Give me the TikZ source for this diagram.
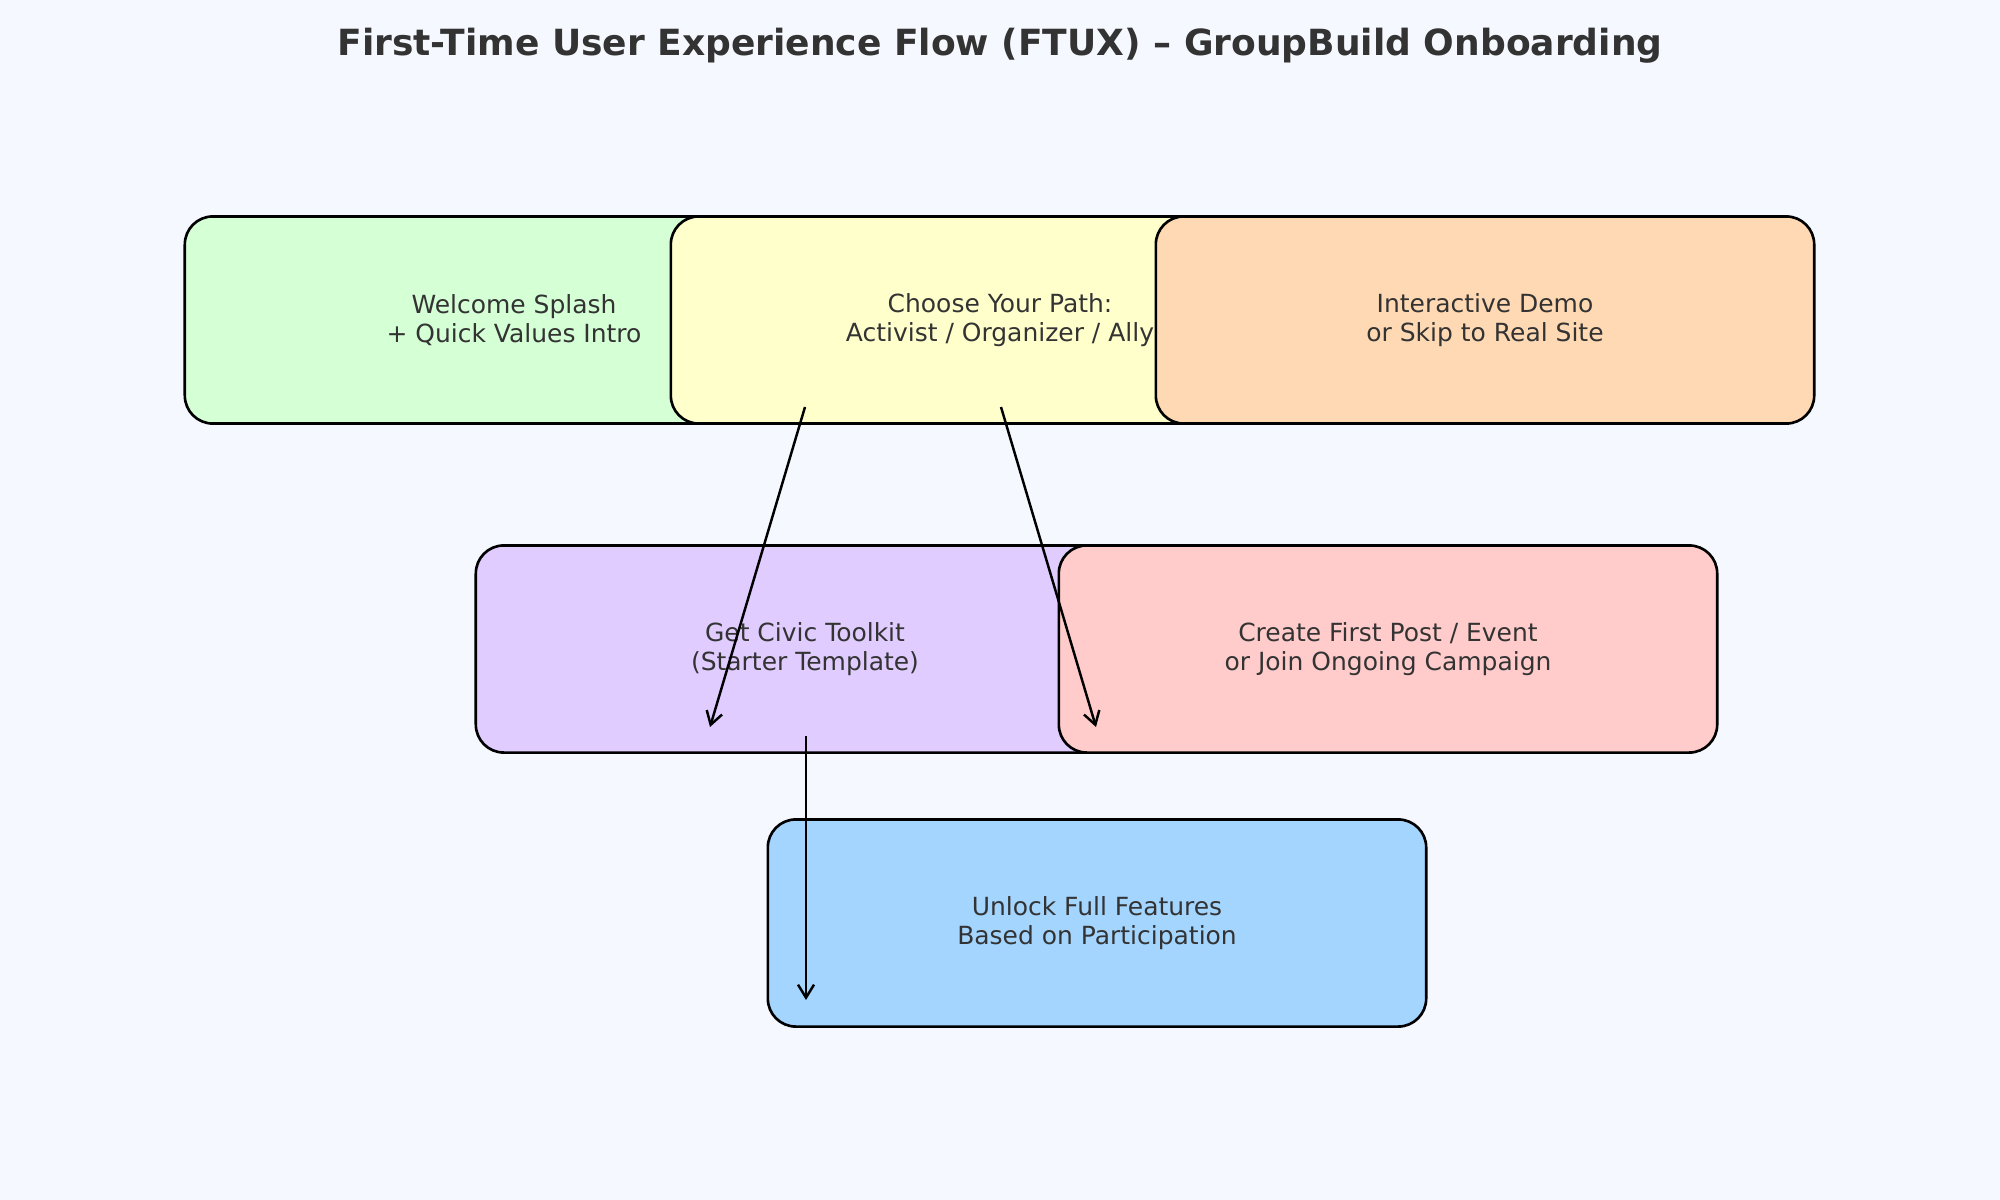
\documentclass[tikz,border=0pt]{standalone}
\usepackage{fontspec}
\setmainfont{DejaVu Sans}
\usetikzlibrary{arrows.meta}
\usepackage{xcolor}

\definecolor{pagebg}{HTML}{F5F9FF}
\definecolor{inktext}{HTML}{333333}
\definecolor{welcomefill}{HTML}{D5FFD5}
\definecolor{pathfill}{HTML}{FFFFCC}
\definecolor{demofill}{HTML}{FFD9B3}
\definecolor{toolkitfill}{HTML}{E0CCFF}
\definecolor{postfill}{HTML}{FFCCCB}
\definecolor{unlockfill}{HTML}{A3D5FF}

\tikzset{
  stage/.style={draw=black, line width=0.75pt, rounded corners=0.28cm,
    minimum width=6.58cm, minimum height=2.07cm, inner sep=0pt,
    align=center, text=inktext, font=\fontsize{7.1}{8.1}\selectfont},
  flow/.style={-{Straight Barb[length=1.3mm, width=1.6mm]}, line width=0.7pt}
}

\begin{document}
\begin{tikzpicture}[x=0.01cm, y=-0.01cm]
\fill[pagebg] (0,0) rectangle (2000,1200);
\node[text=inktext, font=\bfseries\fontsize{10.25}{12}\selectfont] (title) at (1000,46)
  {First-Time User Experience Flow (FTUX) – GroupBuild Onboarding};

% top row
\node[stage, fill=welcomefill] (splash) at (514,320) {Welcome Splash\\+ Quick Values Intro};
\node[stage, fill=pathfill] (choose) at (1000,320) {Choose Your Path:\\Activist / Organizer / Ally};
\node[stage, fill=demofill] (demo) at (1485,320) {Interactive Demo\\or Skip to Real Site};

% middle row
\node[stage, fill=toolkitfill] (toolkit) at (805,649) {Get Civic Toolkit\\(Starter Template)};
\node[stage, fill=postfill] (firstpost) at (1388,649) {Create First Post / Event\\or Join Ongoing Campaign};

% bottom
\node[stage, fill=unlockfill] (unlock) at (1097,923) {Unlock Full Features\\Based on Participation};

\coordinate (s1) at (805,407);  \coordinate (e1) at (710,727);
\coordinate (s2) at (1001,407); \coordinate (e2) at (1096,727);
\coordinate (s3) at (806,736);  \coordinate (e3) at (806,1000);
\foreach \s/\e in {s1/e1, s2/e2, s3/e3}{
    \draw[flow] (\s) -- (\e);
}
\end{tikzpicture}
\end{document}
